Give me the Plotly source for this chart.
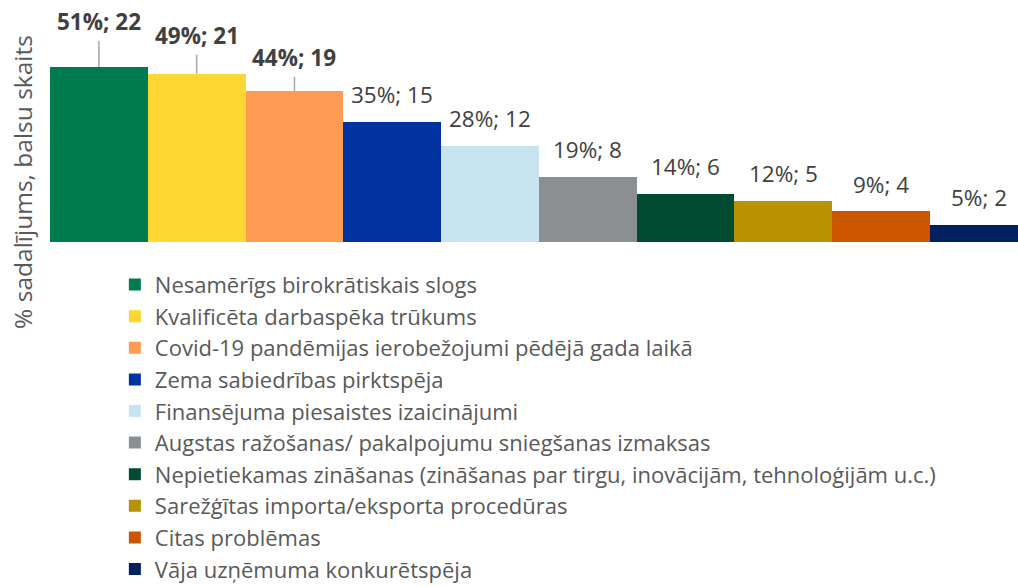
import plotly.graph_objects as go

categories = [
    "Nesamērīgs birokrātiskais slogs",
    "Kvalificēta darbaspēka trūkums",
    "Covid-19 pandēmijas ierobežojumi pēdējā gada laikā",
    "Zema sabiedrības pirktspēja",
    "Finansējuma piesaistes izaicinājumi",
    "Augstas ražošanas/ pakalpojumu sniegšanas izmaksas",
    "Nepietiekamas zināšanas (zināšanas par tirgu, inovācijām, tehnoloģijām u.c.)",
    "Sarežģītas importa/eksporta procedūras",
    "Citas problēmas",
    "Vāja uzņēmuma konkurētspēja",
]
percent = [51, 49, 44, 35, 28, 19, 14, 12, 9, 5]
votes = [22, 21, 19, 15, 12, 8, 6, 5, 4, 2]
colors = ["#007A4F", "#FDD631", "#FF9A52", "#0033A0", "#C8E5EF",
          "#8B8F92", "#004B32", "#B89200", "#CC5500", "#00205F"]

FONT = "Open Sans"
TEXT_COLOR = "#595959"
LABEL_COLOR = "#404040"

fig = go.Figure()
for i, (name, p, c) in enumerate(zip(categories, percent, colors)):
    fig.add_trace(go.Bar(
        x=[i], y=[p], name=name, width=1.0,
        marker=dict(color=c, line=dict(width=0)),
        legendgroup=f"g{i}", hoverinfo="skip",
    ))

annotations = []
leader_offsets = [-45, -38, -33]
for i, (p, v) in enumerate(zip(percent, votes)):
    label = f"{p}%; {v}"
    if i < len(leader_offsets):
        # leading items: bold labels on a leader line
        annotations.append(dict(
            x=i, y=p, xref="x", yref="y", text=f"<b>{label}</b>",
            showarrow=True, arrowhead=0, arrowwidth=1.5, arrowcolor="#A6A6A6",
            ax=0, ay=leader_offsets[i], borderpad=3,
            font=dict(family=FONT, size=22.5, color=LABEL_COLOR),
        ))
    else:
        annotations.append(dict(
            x=i, y=p, xref="x", yref="y", text=label, showarrow=False,
            yshift=27, yanchor="middle",
            font=dict(family=FONT, size=22.5, color=LABEL_COLOR),
        ))

annotations.append(dict(
    x=-0.028, y=0.248, xref="paper", yref="paper",
    text="% sadalījums, balsu skaits", textangle=-90, showarrow=False,
    xanchor="center", yanchor="middle",
    font=dict(family=FONT, size=24.5, color=TEXT_COLOR),
))

fig.update_layout(
    width=1018, height=587,
    margin=dict(l=50, r=0, t=0, b=345, autoexpand=False),
    paper_bgcolor="white", plot_bgcolor="white",
    barmode="overlay", bargap=0,
    showlegend=True,
    legend=dict(
        orientation="v", x=0.067, y=-0.09, xanchor="left", yanchor="top",
        font=dict(family=FONT, size=22, color=TEXT_COLOR),
        tracegroupgap=1, bgcolor="rgba(0,0,0,0)", traceorder="normal",
        borderwidth=0, maxheight=640,
    ),
    xaxis=dict(range=[-0.5, 9.4], visible=False, fixedrange=True),
    yaxis=dict(range=[0, 70.5], visible=False, fixedrange=True),
    annotations=annotations,
)

fig.write_html("out.html")
